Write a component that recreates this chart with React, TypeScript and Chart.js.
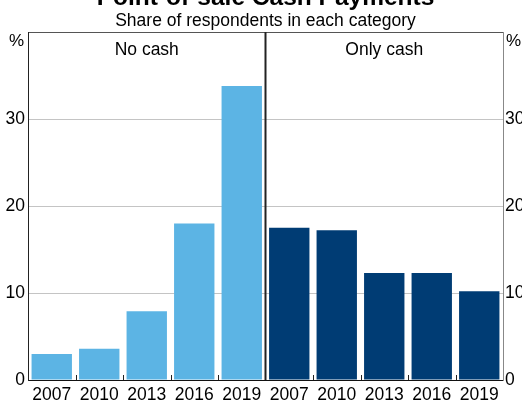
import React, { useEffect, useRef } from "react";
import { Chart, registerables } from "chart.js";

Chart.register(...registerables);

const years = ["2007", "2010", "2013", "2016", "2019"];
const categories = [...years, ...years];
const noCash = [3.0, 3.6, 7.9, 18.0, 33.8];
const onlyCash = [17.5, 17.2, 12.3, 12.3, 10.2];
const yTicks = [0, 10, 20, 30];
const groupLabels = ["No cash", "Only cash"];
const title = "Point-of-sale Cash Payments";
const subtitle = "Share of respondents in each category";

const FONT = '"Liberation Sans", Arial, sans-serif';
const W = 540;
const H = 423;
const OFFSET = 22;

export default function App() {
  const ref = useRef<HTMLCanvasElement>(null);

  useEffect(() => {
    const canvas = ref.current!;
    const pad = (arr: number[], before: boolean) =>
      before ? [...arr, ...arr.map(() => null)] : [...arr.map(() => null), ...arr];

    const overlay = {
      id: "overlay",
      afterDatasetsDraw(chart: any) {
        const { ctx, chartArea } = chart;
        const x = chart.scales.x;
        const n = categories.length;
        ctx.save();
        // inward ticks between categories
        ctx.strokeStyle = "#222";
        ctx.lineWidth = 1;
        for (let i = 0; i < n - 1; i++) {
          if (i === years.length - 1) continue;
          const px = Math.round((x.getPixelForValue(i) + x.getPixelForValue(i + 1)) / 2) + 0.5;
          ctx.beginPath();
          ctx.moveTo(px, chartArea.bottom);
          ctx.lineTo(px, chartArea.bottom - 5);
          ctx.stroke();
        }
        // divider
        const mid = (x.getPixelForValue(years.length - 1) + x.getPixelForValue(years.length)) / 2;
        ctx.strokeStyle = "#222";
        ctx.lineWidth = 2;
        ctx.beginPath();
        ctx.moveTo(mid, chartArea.top);
        ctx.lineTo(mid, chartArea.bottom);
        ctx.stroke();
        // group labels
        ctx.fillStyle = "#000";
        ctx.font = `17.5px ${FONT}`;
        ctx.textAlign = "center";
        ctx.textBaseline = "middle";
        ctx.fillText(groupLabels[0], (chartArea.left + mid) / 2, chartArea.top + 18);
        ctx.fillText(groupLabels[1], (mid + chartArea.right) / 2, chartArea.top + 18);
        // % labels
        ctx.font = `17px ${FONT}`;
        ctx.textAlign = "right";
        ctx.fillText("%", chartArea.left - 4, chartArea.top + 9);
        ctx.textAlign = "left";
        ctx.fillText("%", chartArea.right + 3, chartArea.top + 9);
        // title + subtitle
        const cx = (chartArea.left + chartArea.right) / 2;
        ctx.textAlign = "center";
        ctx.textBaseline = "alphabetic";
        ctx.font = `bold 24.5px ${FONT}`;
        ctx.fillText(title, cx, 27);
        ctx.font = `17.5px ${FONT}`;
        ctx.fillText(subtitle, cx, 47.5);
        ctx.restore();
      },
    };

    const chart = new Chart(canvas, {
      type: "bar",
      data: {
        labels: categories,
        datasets: [
          {
            label: groupLabels[0],
            data: pad(noCash, true) as any,
            backgroundColor: "#5CB4E4",
            grouped: false,
            barPercentage: 0.85,
            categoryPercentage: 1,
          } as any,
          {
            label: groupLabels[1],
            data: pad(onlyCash, false) as any,
            backgroundColor: "#003C74",
            grouped: false,
            barPercentage: 0.85,
            categoryPercentage: 1,
          } as any,
        ],
      },
      options: {
        responsive: false,
        animation: false,
        devicePixelRatio: 1,
        layout: { padding: { top: 54, left: 0, right: 0, bottom: 0 } },
        plugins: { legend: { display: false }, tooltip: { enabled: false } },
        scales: {
          x: {
            grid: { display: false, drawTicks: false },
            border: { color: "#111", width: 1 },
            ticks: { color: "#000", font: { family: FONT, size: 17.5 }, padding: 5, maxRotation: 0, autoSkip: false },
            afterFit: (s: any) => {
              s.height = 21;
            },
          },
          y: {
            position: "left",
            min: 0,
            max: 40,
            afterBuildTicks: (s: any) => {
              s.ticks = [...yTicks, 40].map((v) => ({ value: v }));
            },
            ticks: {
              color: "#000",
              font: { family: FONT, size: 17.5 },
              padding: 3,
              callback: (v: any) => (yTicks.includes(Number(v)) ? String(v) : ""),
            },
            grid: {
              drawTicks: false,
              color: (c: any) =>
                c.tick && c.tick.value === 40 ? "#555" : c.tick && c.tick.value === 0 ? "rgba(0,0,0,0)" : "#c4c4c4",
            },
            border: { color: "#222", width: 1 },
            afterFit: (s: any) => {
              s.width = 28;
            },
          },
          y2: {
            position: "right",
            min: 0,
            max: 40,
            afterBuildTicks: (s: any) => {
              s.ticks = [...yTicks, 40].map((v) => ({ value: v }));
            },
            ticks: {
              color: "#000",
              font: { family: FONT, size: 17.5 },
              padding: 2,
              callback: (v: any) => (yTicks.includes(Number(v)) ? String(v) : ""),
            },
            grid: { drawOnChartArea: false, drawTicks: false },
            border: { color: "#888", width: 1 },
            afterFit: (s: any) => {
              s.width = 37;
            },
          },
        },
      },
      plugins: [overlay],
    });
    return () => chart.destroy();
  }, []);

  return (
    <div style={{ position: "fixed", left: 0, top: 0, width: 522, height: 401, overflow: "hidden", background: "#fff" }}>
      <canvas
        ref={ref}
        width={W}
        height={H}
        style={{ position: "absolute", left: 0, top: -OFFSET, width: W, height: H }}
      />
    </div>
  );
}
